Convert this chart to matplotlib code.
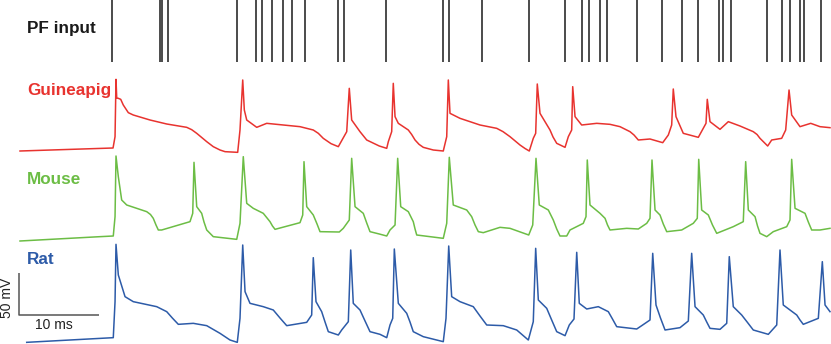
import matplotlib
matplotlib.use("Agg")
import matplotlib.pyplot as plt

# czasy impulsow PF (ms)
pf_times = [11.54, 17.5, 17.71, 18.46, 27.16, 29.5, 30.25, 31.5, 32.84, 34.0,
            35.66, 39.75, 40.54, 45.75, 52.91, 53.63, 57.79, 63.59, 68.13,
            70.21, 71.09, 72.5, 73.34, 77.16, 80.21, 82.71, 84.71, 87.34,
            87.84, 88.84, 93.41, 95.25, 96.25, 97.54, 97.96, 100.09]

# Guineapig - czas (ms) i napiecie (mV)
gp_t = [0.0, 11.63, 11.88, 12.0, 12.09, 12.29, 12.59, 12.91, 13.54, 14.16,
        16.25, 18.34, 20.84, 21.46, 22.09, 23.34, 24.16, 25.0, 25.63, 27.21,
        27.5, 27.84, 28.04, 28.34, 29.59, 30.84, 31.66, 35.0, 36.66, 37.29,
        37.91, 38.88, 39.79, 40.21, 40.84, 41.16, 41.46, 42.5, 43.34, 44.91,
        45.84, 46.04, 46.46, 46.66, 46.88, 47.29, 48.54, 48.96, 49.38, 49.88,
        50.41, 51.66, 52.91, 53.34, 53.54, 53.75, 55.0, 57.5, 59.59, 60.38,
        61.25, 62.5, 63.13, 63.66, 64.16, 64.46, 64.66, 65.0, 66.25, 66.63,
        67.09, 68.13, 68.54, 68.96, 69.09, 69.38, 70.21, 72.09, 73.75, 75.0,
        76.25, 76.75, 77.29, 78.75, 80.34, 81.04, 81.46, 81.66, 82.0, 82.91,
        84.79, 85.75, 85.91, 86.25, 87.5, 88.54, 90.0, 91.66, 92.13, 92.5,
        93.46, 93.96, 95.21, 95.71, 96.13, 96.46, 97.5, 98.84, 100.0, 101.25]
gp_v = [-73.6, -70.0, -56.4, 12.4, -10.0, -10.4, -11.6, -18.4, -27.6, -30.4,
        -36.4, -41.2, -45.2, -48.0, -52.4, -62.4, -68.4, -72.4, -74.4, -75.2,
        -48.4, 11.6, -24.4, -36.4, -45.2, -40.4, -41.2, -44.4, -48.4, -52.4,
        -58.4, -64.8, -68.4, -61.2, -50.4, 1.6, -36.4, -50.4, -60.4, -67.6,
        -70.4, -62.4, -50.4, 7.6, -32.4, -40.4, -48.4, -53.8, -60.4, -65.6,
        -69.2, -72.4, -73.6, -56.4, 11.6, -28.4, -34.4, -42.4, -46.4, -50.4,
        -56.4, -66.4, -70.6, -73.6, -58.4, -52.4, 6.8, -28.4, -48.4, -56.8,
        -64.4, -69.2, -56.4, -48.4, 3.6, -32.4, -42.4, -40.4, -41.6, -44.4,
        -50.4, -54.4, -60.4, -59.2, -63.6, -54.4, -42.4, 0.8, -32.4, -52.4,
        -57.2, -40.4, -11.6, -38.4, -47.6, -38.4, -43.6, -50.4, -53.8, -58.4,
        -67.6, -60.4, -58.4, -48.4, -0.4, -30.4, -44.4, -40.4, -44.4, -45.6]

# Mouse
ms_t = [0.0, 10.0, 11.66, 11.88, 12.0, 12.29, 12.71, 13.34, 15.84, 16.31,
        16.66, 17.0, 17.29, 17.71, 21.25, 21.59, 21.75, 22.09, 22.71, 23.0,
        23.34, 24.16, 27.09, 27.5, 27.91, 28.34, 29.16, 30.41, 31.25, 31.56,
        31.88, 35.0, 35.34, 35.5, 35.84, 36.66, 37.13, 37.5, 39.91, 40.41,
        41.16, 41.46, 41.88, 42.91, 43.34, 43.75, 44.91, 45.84, 46.25, 46.88,
        47.21, 47.59, 48.54, 49.16, 49.38, 49.59, 52.91, 53.34, 53.66, 54.16,
        55.84, 56.46, 56.88, 57.29, 57.91, 60.0, 61.25, 63.59, 64.09, 64.5,
        64.91, 66.04, 66.66, 67.09, 67.5, 68.34, 68.75, 70.41, 70.75, 70.91,
        71.25, 72.5, 73.13, 73.44, 73.75, 75.84, 77.29, 78.34, 78.75, 79.0,
        79.38, 80.0, 80.41, 80.84, 82.71, 84.16, 84.66, 84.84, 85.21, 86.04,
        86.56, 87.09, 89.16, 90.41, 90.71, 91.04, 91.88, 92.19, 92.5, 93.34,
        94.16, 95.84, 96.25, 96.46, 96.88, 98.13, 98.54, 98.96, 100.0, 101.25]
ms_v = [-76.0, -70.8, -70.0, -46.8, 26.0, 1.2, -26.8, -32.8, -40.8, -44.2,
        -48.8, -56.8, -62.8, -62.8, -52.8, -42.8, 18.4, -34.8, -42.8, -53.2,
        -62.8, -70.8, -74.0, -54.8, 25.2, -30.8, -36.8, -42.8, -52.8, -58.0,
        -62.0, -54.0, -44.8, 19.2, -34.8, -44.8, -55.6, -64.8, -65.2, -60.8,
        -50.8, 23.2, -34.8, -42.8, -54.4, -64.8, -67.6, -70.0, -62.8, -56.8,
        23.2, -34.8, -40.8, -52.8, -61.6, -68.8, -72.8, -54.8, 24.4, -32.8,
        -38.8, -46.8, -56.8, -64.8, -66.0, -59.6, -60.8, -68.8, -56.8, 23.2,
        -32.8, -38.8, -50.8, -61.6, -70.0, -70.0, -62.8, -54.8, -46.8, 21.2,
        -32.8, -42.8, -48.8, -56.8, -62.8, -60.8, -61.6, -54.8, -48.8, 21.2,
        -38.8, -44.8, -55.6, -64.8, -62.8, -54.8, -48.8, 22.0, -38.8, -44.8,
        -56.8, -66.8, -58.8, -52.8, 19.2, -38.8, -46.8, -58.0, -66.8, -70.8,
        -64.8, -58.8, -50.8, 22.0, -36.8, -42.8, -53.2, -62.8, -62.8, -60.8]

# Rat
rt_t = [0.84, 11.66, 11.88, 12.0, 12.29, 13.13, 14.16, 17.09, 18.34, 19.06,
        19.79, 21.66, 23.34, 25.0, 26.25, 27.16, 27.5, 27.84, 28.13, 28.75,
        30.41, 31.66, 32.5, 33.34, 35.84, 36.46, 36.66, 37.0, 37.71, 38.13,
        38.54, 39.79, 40.21, 41.04, 41.34, 41.66, 42.5, 43.13, 43.75, 45.0,
        45.84, 46.25, 46.59, 46.79, 47.29, 48.34, 48.75, 49.16, 50.41, 52.91,
        53.25, 53.59, 53.96, 55.0, 56.66, 57.5, 58.34, 60.41, 62.09, 63.54,
        64.16, 64.46, 64.79, 65.84, 66.46, 67.09, 68.13, 68.66, 69.25, 69.59,
        69.91, 70.84, 72.29, 73.54, 74.06, 74.59, 77.09, 77.71, 78.75, 79.09,
        79.5, 80.06, 80.63, 82.5, 83.54, 83.96, 84.38, 85.41, 85.84, 86.25,
        87.5, 88.34, 88.66, 89.16, 90.21, 90.94, 91.66, 93.54, 94.59, 95.0,
        95.41, 97.09, 97.5, 97.91, 99.79, 100.29, 100.63, 101.25]
rt_v = [-75.2, -69.6, -26.4, 42.4, 5.6, -20.4, -26.4, -32.4, -38.4, -46.2,
        -53.6, -52.4, -55.2, -64.4, -72.4, -75.2, -46.4, 41.6, -14.4, -28.4,
        -32.4, -36.4, -46.0, -55.2, -51.2, -42.4, 26.4, -26.4, -38.4, -50.8,
        -62.4, -66.4, -60.4, -50.4, 35.6, -28.4, -36.4, -49.6, -62.4, -65.6,
        -69.6, -54.4, -46.4, 36.8, -28.4, -40.4, -50.8, -62.4, -68.4, -74.4,
        -46.4, 40.4, -20.4, -26.4, -32.4, -43.6, -54.4, -55.2, -60.4, -72.4,
        -50.4, 37.6, -24.4, -34.4, -48.4, -62.4, -67.2, -54.4, -47.2, 32.8,
        -28.4, -35.2, -32.4, -38.4, -47.2, -56.4, -59.2, -55.2, -48.4, 31.6,
        -30.4, -46.0, -60.4, -57.6, -49.6, 31.6, -32.4, -42.4, -50.8, -58.4,
        -59.6, -52.4, 27.6, -32.4, -42.4, -51.4, -60.4, -65.6, -54.4, 35.6,
        -30.4, -42.4, -48.4, -53.6, -46.4, 21.6, -30.4, -38.4]

labels = ["PF input", "Guineapig", "Mouse", "Rat"]
colors = ["#1a1a1a", "#e8332f", "#6cbd45", "#2d5ba8"]

W, H = 831, 344
fig = plt.figure(figsize=(W / 100, H / 100), dpi=100)
ax = fig.add_axes((0, 0, 1, 1))
ax.set_xlim(-2.5, 101.375)
ax.set_ylim(0, 412.8)
ax.axis("off")


def py(y):
    # pozycja pikselowa -> jednostki osi
    return (H - y) * 1.2


# raster PF
ax.vlines(pf_times, py(62), py(0), color=colors[0], lw=1.1)

# przebiegi napiecia, przesuniete w pionie
offsets = [305.2, 199.6, 77.2]
traces = [(gp_t, gp_v), (ms_t, ms_v), (rt_t, rt_v)]
for (t, v), off, c in zip(traces, offsets, colors[1:]):
    ax.plot(t, [x + off for x in v], color=c, lw=1.1,
            solid_joinstyle="round")

# etykiety
fam = ["Liberation Sans", "DejaVu Sans"]
for lab, c, yb in zip(labels, colors, [33, 95, 184, 264]):
    ax.text(0.875, py(yb), lab, color=c, fontsize=12.3, fontweight="bold",
            family=fam, ha="left", va="baseline")

# podzialka 10 ms / 50 mV
x0 = (19 - 20) / 8
ax.plot([x0, x0, x0 + 10], [py(315) + 50, py(315), py(315)],
        color="#555555", lw=1.1, solid_capstyle="butt")
ax.text((54 - 20) / 8, py(325), "10 ms", fontsize=10, family=fam,
        ha="center", va="center", color="#222222")
ax.text((7 - 20) / 8, py(298), "50 mV", fontsize=10, family=fam,
        ha="center", va="center", rotation=90, color="#222222")

fig.savefig("out.png", dpi=100)
